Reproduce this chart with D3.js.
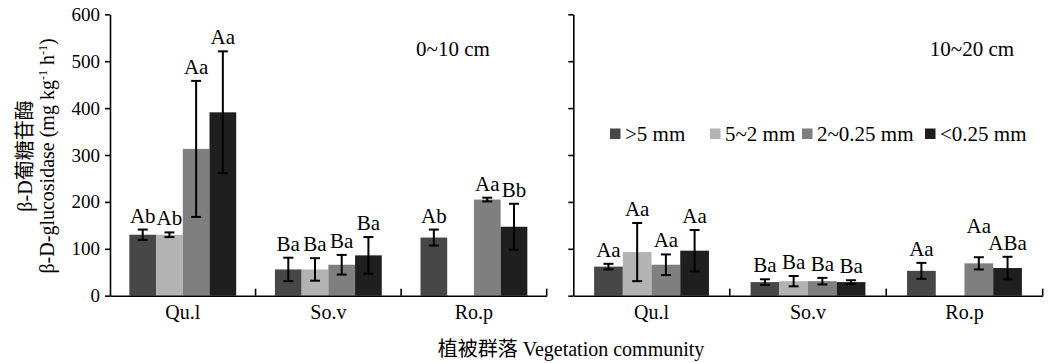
<!DOCTYPE html>
<html><head><meta charset="utf-8">
<script src="https://cdn.jsdelivr.net/npm/d3@7"></script>
<style>
body{margin:0;background:#fff}
text{font-family:"Liberation Serif","Times New Roman","Noto Sans CJK SC",serif;fill:#000}
</style>
</head><body>
<svg id="c" width="1049" height="363"></svg>
<script>
// ---------------- data ----------------
const categories = ["Qu.l", "So.v", "Ro.p"];
const seriesNames = [">5 mm", "5~2 mm", "2~0.25 mm", "<0.25 mm"];
const yTicks = [0, 100, 200, 300, 400, 500, 600];
const panelTitles = ["0~10 cm", "10~20 cm"];

// 0~10 cm : values[series][category]
const values0_10 = [
  [130, 56, 124],
  [130, 56, null],
  [313, 66, 205],
  [391, 86, 147]
];
const errors0_10 = [
  [11, 25, 17],
  [5, 24, null],
  [145, 21, 4],
  [130, 39, 49]
];
const letters0_10 = [
  ["Ab", "Ba", "Ab"],
  ["Ab", "Ba", null],
  ["Aa", "Ba", "Aa"],
  ["Aa", "Ba", "Bb"]
];

// 10~20 cm
const values10_20 = [
  [62, 29, 53],
  [93, 31, null],
  [66, 31, 69],
  [96, 29, 59]
];
const errors10_20 = [
  [6, 6, 17],
  [62, 11, null],
  [22, 7, 13],
  [44, 4, 24]
];
const letters10_20 = [
  ["Aa", "Ba", "Aa"],
  ["Aa", "Ba", null],
  ["Aa", "Ba", "Aa"],
  ["Aa", "Ba", "ABa"]
];

// ---------------- style / layout ----------------
const colors = ["#474747", "#b3b3b3", "#7f7f7f", "#1f1f1f"];
const svg = d3.select("#c");
const y0 = 295.7, yTop = 14.3;
const y = d3.scaleLinear().domain([0, 600]).range([y0, yTop]);

const panels = [
  {x0: 110, x1: 546.7, vals: values0_10, errs: errors0_10, lets: letters0_10,
   title: panelTitles[0], tx: 453, showLabels: true},
  {x0: 573.3, x1: 1042.7, vals: values10_20, errs: errors10_20, lets: letters10_20,
   title: panelTitles[1], tx: 972, showLabels: false}
];

panels.forEach(p => {
  const x = d3.scaleBand().domain(categories).range([p.x0, p.x1]).paddingInner(0).paddingOuter(0);
  const bw = x.bandwidth();
  const xs = d3.scaleBand().domain(d3.range(seriesNames.length))
    .range([bw * 0.133, bw * 0.867]).paddingInner(0).paddingOuter(0);
  const g = svg.append("g");

  const items = [];
  seriesNames.forEach((s, si) => {
    categories.forEach((c, ci) => {
      const v = p.vals[si][ci];
      if (v == null) return;
      items.push({si, ci, c, v, e: p.errs[si][ci], l: p.lets[si][ci]});
    });
  });
  const cx = d => x(d.c) + xs(d.si) + xs.bandwidth() / 2;

  g.selectAll("rect.bar").data(items).join("rect")
    .attr("class", "bar")
    .attr("x", d => x(d.c) + xs(d.si))
    .attr("width", xs.bandwidth())
    .attr("y", d => y(d.v))
    .attr("height", d => y(0) - y(d.v))
    .attr("fill", d => colors[d.si]);

  const eg = g.selectAll("g.err").data(items).join("g").attr("class", "err")
    .attr("stroke", "#000").attr("stroke-width", 2);
  eg.append("line")
    .attr("x1", cx).attr("x2", cx)
    .attr("y1", d => y(d.v + d.e)).attr("y2", d => y(d.v - d.e));
  [1, -1].forEach(sgn => {
    eg.append("line")
      .attr("x1", d => cx(d) - 5).attr("x2", d => cx(d) + 5)
      .attr("y1", d => y(d.v + sgn * d.e)).attr("y2", d => y(d.v + sgn * d.e));
  });

  const lt = g.selectAll("text.lab").data(items).join("text")
    .attr("class", "lab")
    .attr("text-anchor", "middle")
    .attr("font-size", 21)
    .attr("x", cx)
    .attr("y", d => y(d.v + d.e) - 7)
    .text(d => d.l);
  // resolve overlapping neighbour labels: lift the left one
  const nodes = lt.nodes();
  categories.forEach(c => {
    const grp = nodes.filter(n => d3.select(n).datum().c === c);
    for (let i = grp.length - 2; i >= 0; i--) {
      const a = grp[i], b = grp[i + 1];
      const da = d3.select(a).datum(), db = d3.select(b).datum();
      if (db.si !== da.si + 1) continue;
      const ax = +a.getAttribute("x"), bx = +b.getAttribute("x");
      const gap = (bx - b.getComputedTextLength() / 2) - (ax + a.getComputedTextLength() / 2);
      const ay = +a.getAttribute("y"), by = +b.getAttribute("y");
      if (gap < 0 && Math.abs(ay - by) < 16) {
        a.setAttribute("y", Math.min(ay, by - 17));
      }
    }
  });

  const ya = d3.axisLeft(y).tickValues(yTicks).tickSize(5).tickSizeOuter(0).tickPadding(5)
    .tickFormat(p.showLabels ? d3.format("d") : "");
  const yg = svg.append("g").attr("transform", `translate(${p.x0},0)`).call(ya);
  yg.select(".domain").attr("stroke-width", 1.6);
  yg.selectAll(".tick line").attr("stroke-width", 1.6);
  yg.selectAll("text").attr("font-size", 19).style("font-family", '"Liberation Serif",serif');

  const xa = d3.axisBottom(x).tickSize(0).tickSizeOuter(0).tickPadding(9);
  const xg = svg.append("g").attr("transform", `translate(0,${y0})`).call(xa);
  xg.select(".domain").attr("stroke-width", 1.6);
  xg.selectAll("text").attr("font-size", 20).style("font-family", '"Liberation Serif",serif');
  xg.selectAll("line.bt").data(categories).join("line").attr("class", "bt")
    .attr("x1", d => x(d) + bw).attr("x2", d => x(d) + bw)
    .attr("y1", 0).attr("y2", -7)
    .attr("stroke", "#000").attr("stroke-width", 1.6);

  svg.append("text").attr("x", p.tx).attr("y", 56).attr("text-anchor", "middle")
    .attr("font-size", 21).text(p.title);
});

// legend
const legendX = [610, 710, 802, 925];
const lg = svg.append("g");
seriesNames.forEach((s, i) => {
  lg.append("rect").attr("x", legendX[i]).attr("y", 128.5).attr("width", 10.5).attr("height", 10.5)
    .attr("fill", colors[i]);
  lg.append("text").attr("x", legendX[i] + 15).attr("y", 140.5).attr("font-size", 21).text(s);
});

// y axis title
const yt = svg.append("g").attr("transform", "translate(0,156) rotate(-90)");
yt.append("text").attr("x", 0).attr("y", 32).attr("text-anchor", "middle").attr("font-size", 20)
  .text("β-D葡糖苷酶");
const t2 = yt.append("text").attr("x", 0).attr("y", 54).attr("text-anchor", "middle").attr("font-size", 20);
t2.append("tspan").text("β-D-glucosidase (mg kg");
t2.append("tspan").attr("dy", -7).attr("font-size", 12).text("-1");
t2.append("tspan").attr("dy", 7).text(" h");
t2.append("tspan").attr("dy", -7).attr("font-size", 12).text("-1");
t2.append("tspan").attr("dy", 7).text(")");

// x axis title
svg.append("text").attr("x", 571).attr("y", 356).attr("text-anchor", "middle").attr("font-size", 20)
  .text("植被群落 Vegetation community");
</script>
</body></html>
